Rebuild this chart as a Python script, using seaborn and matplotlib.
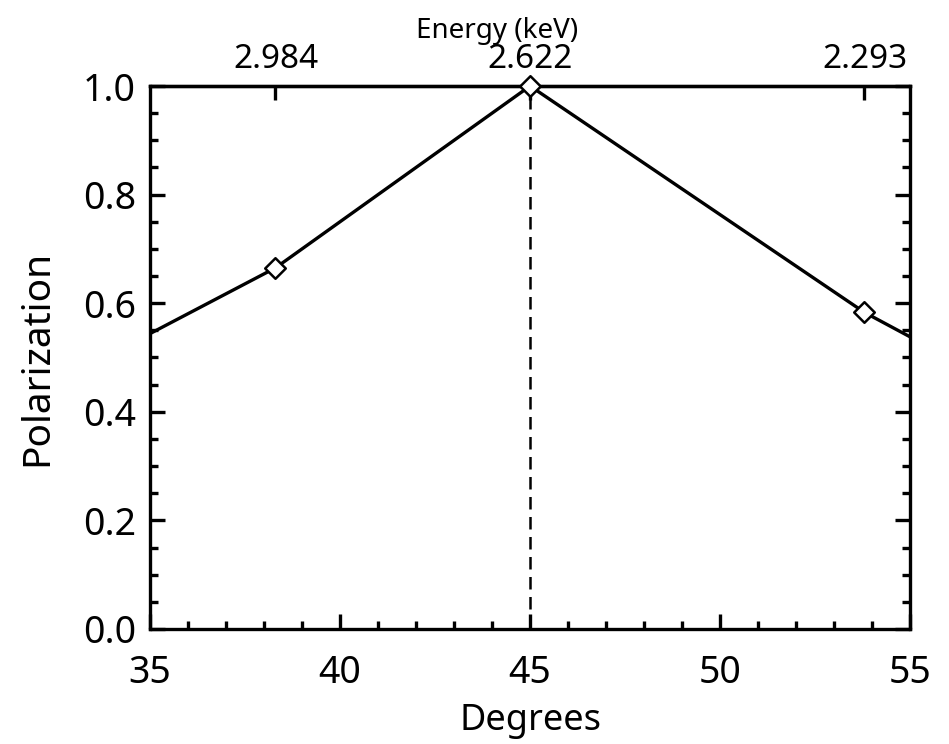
import numpy as np
import pandas as pd
import matplotlib
matplotlib.use("Agg")
import matplotlib.pyplot as plt
import seaborn as sns
from matplotlib.ticker import MultipleLocator, FormatStrFormatter

# ---- data ----
line_deg = [35.0, 38.3, 45.0, 53.8, 55.0]
line_pol = [0.544, 0.665, 1.0, 0.583, 0.538]
point_deg = [38.3, 45.0, 53.8]
point_pol = [0.665, 1.0, 0.583]
peak_deg = 45.0
energy_ticks = [38.3, 45.0, 53.8]
energy_labels = ["2.984", "2.622", "2.293"]

sns.set_theme(style="ticks")
plt.rcParams["font.family"] = ["Noto Sans", "DejaVu Sans"]
plt.rcParams["text.color"] = "black"
plt.rcParams["axes.labelcolor"] = "black"
plt.rcParams["xtick.color"] = "black"
plt.rcParams["ytick.color"] = "black"

lw = 2.4
fig = plt.figure(figsize=(9.49, 7.44), dpi=100)
ax = fig.add_axes([0.1581, 0.1546, 0.8009, 0.7298])

line_df = pd.DataFrame({"deg": line_deg, "pol": line_pol})
pt_df = pd.DataFrame({"deg": point_deg, "pol": point_pol})

sns.lineplot(data=line_df, x="deg", y="pol", ax=ax, color="black",
             linewidth=lw, sort=True, zorder=3)
ax.axvline(peak_deg, color="black", linestyle=(0, (5, 3)), linewidth=1.8, zorder=2)
sns.scatterplot(data=pt_df, x="deg", y="pol", ax=ax, marker="D", s=110,
                facecolor="white", edgecolor="black", linewidth=1.8, zorder=4,
                clip_on=False)

ax.set_xlim(35, 55)
ax.set_ylim(0, 1)
ax.xaxis.set_major_locator(MultipleLocator(5))
ax.xaxis.set_minor_locator(MultipleLocator(1))
ax.yaxis.set_major_locator(MultipleLocator(0.2))
ax.yaxis.set_minor_locator(MultipleLocator(0.05))
ax.yaxis.set_major_formatter(FormatStrFormatter("%.1f"))
ax.xaxis.set_major_formatter(FormatStrFormatter("%d"))

for s in ax.spines.values():
    s.set_linewidth(lw)
    s.set_color("black")
    s.set_visible(True)

ax.tick_params(axis="both", which="both", direction="in", width=lw, color="black",
               labelcolor="black")
ax.tick_params(axis="x", which="both", top=False, bottom=True)
ax.tick_params(axis="y", which="both", left=True, right=True)
ax.tick_params(axis="x", which="major", length=11, labelsize=27, pad=18)
ax.tick_params(axis="x", which="minor", length=5.5)
ax.tick_params(axis="y", which="major", length=11, labelsize=27, pad=10)
ax.tick_params(axis="y", which="minor", length=5.5)

ax.set_xlabel("Degrees", fontsize=26, labelpad=8, color="black")
ax.set_ylabel("Polarization", fontsize=28, labelpad=19, color="black")

fig.canvas.draw()
ylabs = ax.get_yticklabels()
ylabs[0].set_verticalalignment("bottom")
ylabs[-1].set_verticalalignment("top")

sec = ax.secondary_xaxis("top")
sec.set_xticks(energy_ticks)
sec.set_xticklabels(energy_labels)
sec.xaxis.set_minor_locator(plt.NullLocator())
sec.tick_params(axis="x", which="major", direction="in", length=10, width=lw,
                labelsize=24, pad=7, color="black", labelcolor="black")
sec.spines["top"].set_linewidth(lw)
sec.set_xlabel("Energy (keV)", fontsize=20, color="black")
sec.xaxis.set_label_coords(0.457, 1.089, transform=ax.transAxes)

fig.savefig("out.png", dpi=100, facecolor="white")
